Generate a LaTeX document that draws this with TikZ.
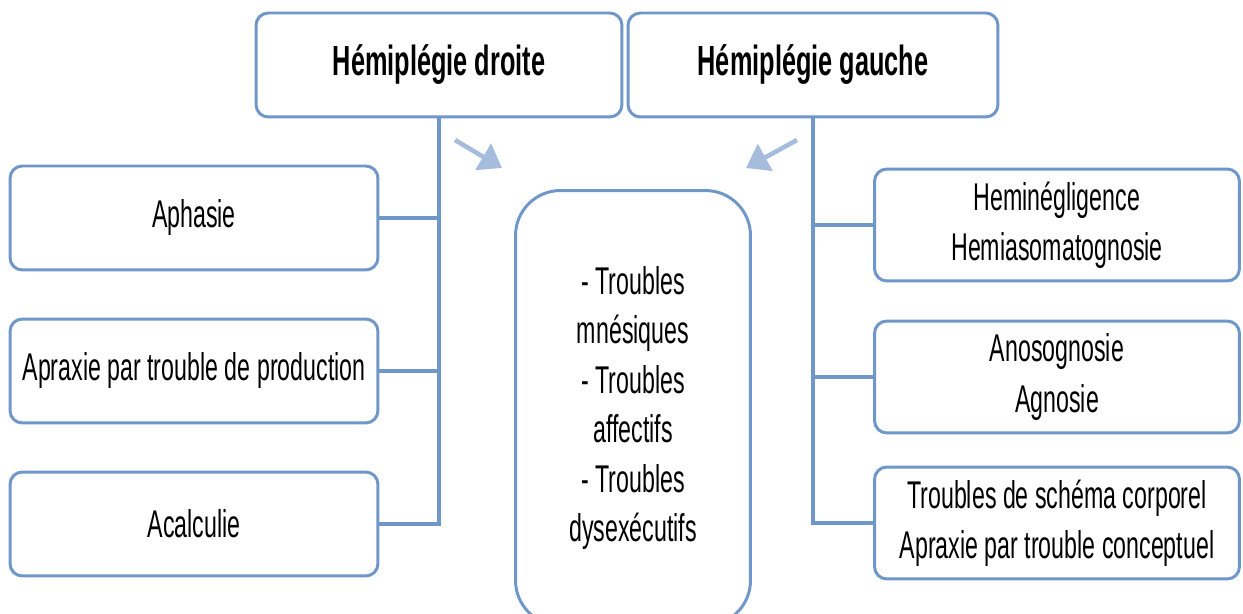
\documentclass[tikz,border=0pt]{standalone}
\usepackage{fontspec}
\setmainfont{Liberation Sans}[FakeStretch=0.6]
\usetikzlibrary{arrows.meta}
\definecolor{boxblue}{HTML}{6F97C9}
\definecolor{hintblue}{HTML}{A5BCDD}

\begin{document}
\begin{tikzpicture}
    [ x=0.02cm, y=-0.02cm
    , box/.style={draw=boxblue, line width=1.7pt, rounded corners=7pt, align=center,
        inner sep=0pt, font=\fontsize{22}{28.5}\selectfont}
    , titlebox/.style={box, minimum height=2.08cm, font=\fontsize{24}{28}\selectfont\bfseries}
    , leftbox/.style={box, minimum width=7.36cm, minimum height=2.08cm}
    , rightbox/.style={box, minimum width=7.3cm, minimum height=2.24cm}
    , link/.style={draw=boxblue, line width=2.3pt}
    , hint/.style={draw=hintblue, line width=2.6pt, -{Triangle[length=0.44cm, width=0.6cm]}}
    ]
\useasboundingbox (0,0) rectangle (1243,614);

% top
\node[titlebox, minimum width=7.32cm] (droite) at (439,65) {Hémiplégie droite};
\node[titlebox, minimum width=7.4cm]  (gauche) at (813,65) {Hémiplégie gauche};

% left column
\node[leftbox] (aphasie)   at (194,218) {Aphasie};
\node[leftbox] (apraxie)   at (194,371) {Apraxie par trouble de production};
\node[leftbox] (acalculie) at (194,524) {Acalculie};

% right column
\node[rightbox] (negligence) at (1057,225) {Heminégligence\\Hemiasomatognosie};
\node[rightbox] (agnosie)    at (1057,377) {Anosognosie\\Agnosie};
\node[rightbox] (schema)     at (1057,523) {Troubles de schéma corporel\\Apraxie par trouble conceptuel};

% middle
\node[box, rounded corners=0.9cm, minimum width=4.7cm, minimum height=8.7cm,
      font=\fontsize{22}{28.2}\selectfont] (troubles) at (633,408)
    {- Troubles\\mnésiques\\- Troubles\\affectifs\\- Troubles\\dysexécutifs};

\draw[link] (droite.south) |- (acalculie.east);
\draw[link] (aphasie.east) -- (aphasie.east -| droite.south);
\draw[link] (apraxie.east) -- (apraxie.east -| droite.south);

\draw[link] (gauche.south) |- (schema.west);
\draw[link] (negligence.west) -- (negligence.west -| gauche.south);
\draw[link] (agnosie.west) -- (agnosie.west -| gauche.south);

\coordinate (dtail) at (455,140);
\coordinate (dtip)  at (502,168);
\coordinate (gtail) at (797,140);
\coordinate (gtip)  at (746,168);
\draw[hint] (dtail) -- (dtip);
\draw[hint] (gtail) -- (gtip);

\end{tikzpicture}
\end{document}
